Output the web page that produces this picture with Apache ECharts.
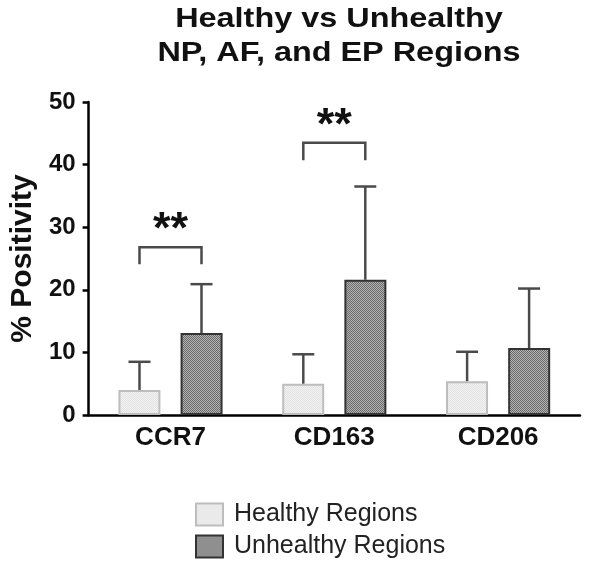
<!DOCTYPE html>
<html>
<head>
<meta charset="utf-8">
<script src="https://cdn.jsdelivr.net/npm/echarts@6/dist/echarts.min.js"></script>
<style>
  html, body { margin: 0; padding: 0; background: #fff; }
  #chart { width: 600px; height: 561px; }
</style>
</head>
<body>
<div id="chart"></div>
<script>
const categories = ['CCR7', 'CD163', 'CD206'];
const healthyMean = [4.0, 5.0, 5.4];
const healthySd = [4.5, 4.7, 4.7];
const unhealthyMean = [13.1, 21.6, 10.7];
const unhealthySd = [7.8, 14.9, 9.5];
// significance brackets: category index, bracket top, leg bottom
const sigCats = [0, 1];
const sigTop = [26.8, 43.5];
const sigBottom = [24.1, 40.7];
const sigText = ['**', '**'];

const FONT = '"Liberation Sans", Arial, Helvetica, sans-serif';
const BAR_W = 42;
const BAR_OFFSET = 31; // half of bar width + half of gap

function makePattern(bg, dot) {
    const c = document.createElement('canvas');
    c.width = 2;
    c.height = 2;
    const ctx = c.getContext('2d');
    ctx.fillStyle = bg;
    ctx.fillRect(0, 0, 2, 2);
    ctx.fillStyle = dot;
    ctx.fillRect(0, 0, 1, 1);
    ctx.fillRect(1, 1, 1, 1);
    return { image: c, repeat: 'repeat' };
}

const healthyFill = makePattern('#f2f2f2', '#e2e2e2');
const unhealthyFill = makePattern('#b4b4b4', '#6a6a6a');

const chart = echarts.init(document.getElementById('chart'));

function errorBar(offset) {
    return function (params, api) {
        const cat = api.value(0);
        const base = api.coord([cat, api.value(1)]);
        const top = api.coord([cat, api.value(1) + api.value(2)]);
        const x = base[0] + offset;
        const style = { stroke: '#4a4a4a', lineWidth: 2.5 };
        return {
            type: 'group',
            children: [
                { type: 'line', shape: { x1: x, y1: base[1], x2: x, y2: top[1] }, style },
                { type: 'line', shape: { x1: x - 11, y1: top[1], x2: x + 11, y2: top[1] }, style }
            ]
        };
    };
}

const legendText = { fontSize: 25, color: '#222', fontFamily: FONT, padding: [0, 0, 0, 6] };

const option = {
    animation: false,
    textStyle: { fontFamily: FONT },
    graphic: [
        {
            type: 'text',
            x: 339,
            y: 3,
            scaleX: 1.2,
            style: {
                text: 'Healthy vs Unhealthy\nNP, AF, and EP Regions',
                textAlign: 'center',
                fontSize: 27,
                fontWeight: 'bold',
                lineHeight: 34,
                fill: '#111',
                fontFamily: FONT
            }
        }
    ],
    legend: [
        {
            left: 190,
            top: 497,
            icon: 'rect',
            itemWidth: 27,
            itemHeight: 22,
            data: ['Healthy Regions'],
            textStyle: legendText
        },
        {
            left: 190,
            top: 529,
            icon: 'rect',
            itemWidth: 27,
            itemHeight: 22,
            data: ['Unhealthy Regions'],
            textStyle: legendText
        }
    ],
    grid: { left: 86, right: 20, top: 102, bottom: 146 },
    xAxis: {
        type: 'category',
        data: categories,
        axisLine: { lineStyle: { color: '#000', width: 2.5 } },
        axisTick: { show: false },
        axisLabel: { fontSize: 26, fontWeight: 'bold', color: '#111', margin: 10 }
    },
    yAxis: {
        type: 'value',
        min: 0,
        max: 50,
        interval: 10,
        name: '% Positivity',
        nameLocation: 'middle',
        nameGap: 50,
        nameTextStyle: { fontSize: 30, fontWeight: 'bold', color: '#111' },
        axisLine: { show: true, lineStyle: { color: '#000', width: 2.5 } },
        axisTick: { show: true, length: 6, lineStyle: { color: '#000', width: 2.5 } },
        axisLabel: { fontSize: 24, fontWeight: 'bold', color: '#111', margin: 13 },
        splitLine: { show: false }
    },
    series: [
        {
            name: 'Healthy Regions',
            type: 'bar',
            data: healthyMean,
            barWidth: BAR_W,
            barGap: '48%',
            itemStyle: { color: healthyFill, borderColor: '#bdbdbd', borderWidth: 2 },
            z: 2
        },
        {
            name: 'Unhealthy Regions',
            type: 'bar',
            data: unhealthyMean,
            barWidth: BAR_W,
            itemStyle: { color: unhealthyFill, borderColor: '#333', borderWidth: 2 },
            z: 2
        },
        {
            type: 'custom',
            renderItem: errorBar(-BAR_OFFSET),
            data: healthyMean.map((v, i) => [i, v, healthySd[i]]),
            z: 3,
            silent: true
        },
        {
            type: 'custom',
            renderItem: errorBar(BAR_OFFSET),
            data: unhealthyMean.map((v, i) => [i, v, unhealthySd[i]]),
            z: 3,
            silent: true
        },
        {
            type: 'custom',
            data: sigCats.map((c, i) => [c, sigTop[i], sigBottom[i]]),
            z: 3,
            silent: true,
            renderItem: function (params, api) {
                const cat = api.value(0);
                const t = api.coord([cat, api.value(1)]);
                const b = api.coord([cat, api.value(2)]);
                const x1 = t[0] - BAR_OFFSET;
                const x2 = t[0] + BAR_OFFSET;
                return {
                    type: 'group',
                    children: [
                        {
                            type: 'polyline',
                            shape: { points: [[x1, b[1]], [x1, t[1]], [x2, t[1]], [x2, b[1]]] },
                            style: { stroke: '#4a4a4a', lineWidth: 2.5, fill: null }
                        },
                        {
                            type: 'text',
                            style: {
                                text: sigText[params.dataIndex],
                                x: t[0],
                                y: t[1] + 6,
                                textAlign: 'center',
                                textVerticalAlign: 'bottom',
                                fontSize: 45,
                                fontWeight: 'bold',
                                fill: '#111',
                                fontFamily: FONT
                            }
                        }
                    ]
                };
            }
        }
    ]
};

chart.setOption(option);
</script>
</body>
</html>
